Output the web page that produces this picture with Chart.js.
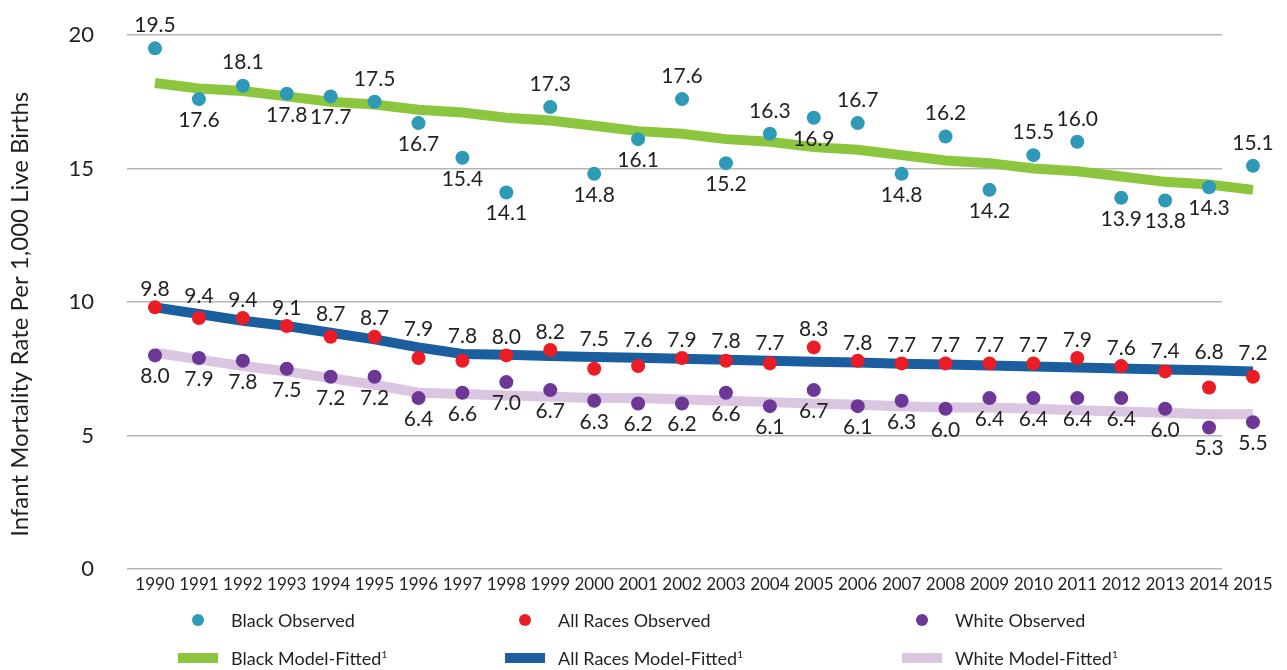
<!DOCTYPE html>
<html>
<head>
<meta charset="utf-8">
<title>Infant Mortality Rate</title>
<script src="https://cdn.jsdelivr.net/npm/chart.js@4.4.1/dist/chart.umd.min.js"></script>
<style>
  html, body { margin: 0; padding: 0; background: #fff; }
  #wrap { position: relative; width: 1287px; height: 670px; overflow: hidden; }
  #mortalityChart { position: absolute; left: 0; top: 0; }
  #legend { position: absolute; left: 0; top: 0; width: 1287px; height: 670px; pointer-events: none;
            font-family: Lato, sans-serif; font-size: 18px; color: #231f20; }
  .legend-item { position: absolute; display: flex; align-items: center; height: 24px; white-space: nowrap; }
  .legend-mark { width: 40px; height: 24px; display: flex; justify-content: center; align-items: center; margin-right: 13px; }
  .legend-item sup { font-size: 10px; vertical-align: 7px; line-height: 0; }
</style>
</head>
<body>
<div id="wrap">
  <canvas id="mortalityChart" width="1287" height="670"></canvas>
  <div id="legend"></div>
</div>
<script>
const years = [1990, 1991, 1992, 1993, 1994, 1995, 1996, 1997, 1998, 1999, 2000, 2001, 2002,
  2003, 2004, 2005, 2006, 2007, 2008, 2009, 2010, 2011, 2012, 2013, 2014, 2015];

const blackObserved = [19.5, 17.6, 18.1, 17.8, 17.7, 17.5, 16.7, 15.4, 14.1, 17.3, 14.8, 16.1, 17.6,
  15.2, 16.3, 16.9, 16.7, 14.8, 16.2, 14.2, 15.5, 16.0, 13.9, 13.8, 14.3, 15.1];
const allRacesObserved = [9.8, 9.4, 9.4, 9.1, 8.7, 8.7, 7.9, 7.8, 8.0, 8.2, 7.5, 7.6, 7.9,
  7.8, 7.7, 8.3, 7.8, 7.7, 7.7, 7.7, 7.7, 7.9, 7.6, 7.4, 6.8, 7.2];
const whiteObserved = [8.0, 7.9, 7.8, 7.5, 7.2, 7.2, 6.4, 6.6, 7.0, 6.7, 6.3, 6.2, 6.2,
  6.6, 6.1, 6.7, 6.1, 6.3, 6.0, 6.4, 6.4, 6.4, 6.4, 6.0, 5.3, 5.5];

// model-fitted lines
const blackFitted = [18.2, 18.0, 17.9, 17.7, 17.5, 17.4, 17.2, 17.1, 16.9, 16.8, 16.6, 16.4, 16.3,
  16.1, 16.0, 15.8, 15.7, 15.5, 15.3, 15.2, 15.0, 14.9, 14.7, 14.5, 14.4, 14.2];
const allRacesFitted = [9.8, 9.55, 9.3, 9.1, 8.85, 8.6, 8.3, 8.05, 8.02, 7.98, 7.94, 7.91, 7.87,
  7.84, 7.8, 7.76, 7.73, 7.69, 7.66, 7.62, 7.58, 7.55, 7.51, 7.47, 7.44, 7.4];
const whiteFitted = [8.1, 7.85, 7.6, 7.4, 7.15, 6.9, 6.6, 6.55, 6.5, 6.45, 6.4, 6.4, 6.35,
  6.3, 6.25, 6.2, 6.15, 6.1, 6.05, 6.05, 6.0, 5.95, 5.9, 5.85, 5.8, 5.8];

const yTicks = [0, 5, 10, 15, 20];

// where each black value label sits relative to its point
const blackLabelSide = ["above", "below", "above", "below", "below", "above", "below", "below", "below",
  "above", "below", "below", "above", "below", "above", "below", "above", "below", "above", "below",
  "above", "above", "below", "below", "below", "above"];

const BLACK_DOT = "#2f9ab7";
const ALL_DOT = "#ec1c24";
const WHITE_DOT = "#6c3796";
const BLACK_LINE = "#8cc63e";
const ALL_LINE = "#1b5e9f";
const WHITE_LINE = "#dac6e1";
const TEXT_COLOR = "#231f20";

function toPoints(values) {
  return values.map((v, i) => ({ x: years[i], y: v }));
}

function observedDataset(label, values, color, sides, gapAbove, anchorLine) {
  return {
    label,
    data: toPoints(values),
    showLine: false,
    pointRadius: 7,
    pointHoverRadius: 7,
    pointBorderWidth: 0,
    pointBackgroundColor: color,
    backgroundColor: color,
    borderColor: color,
    labelSides: sides,
    labelGapAbove: gapAbove,
    labelAnchorLine: anchorLine,
    kind: "dot",
    order: 0,
    clip: false,
  };
}

function fittedDataset(label, values, color) {
  return {
    label,
    data: toPoints(values),
    borderColor: color,
    backgroundColor: color,
    borderWidth: 10,
    borderCapStyle: "butt",
    pointRadius: 0,
    tension: 0,
    kind: "line",
    order: 1,
    clip: false,
  };
}

// the 2015 marks sit right of the gridlines, so let the points draw past the plot area
const widenPointArea = {
  id: "widenPointArea",
  beforeDatasetsDraw(chart) {
    chart.$plotArea = chart.chartArea;
    chart.chartArea = { ...chart.chartArea, right: chart.width };
  },
  afterDatasetsDraw(chart) {
    if (chart.$plotArea) chart.chartArea = chart.$plotArea;
  },
};

const valueLabels = {
  id: "valueLabels",
  afterDatasetsDraw(chart) {
    const { ctx } = chart;
    ctx.save();
    ctx.font = "21px Lato";
    ctx.fillStyle = TEXT_COLOR;
    ctx.textAlign = "center";
    ctx.textBaseline = "middle";
    chart.data.datasets.forEach((ds, di) => {
      if (!ds.labelSides) return;
      // labels above may also have to clear the fitted line drawn through the dots
      const lineMeta = ds.labelAnchorLine != null ? chart.getDatasetMeta(ds.labelAnchorLine) : null;
      chart.getDatasetMeta(di).data.forEach((pt, i) => {
        const text = ds.data[i].y.toFixed(1);
        if (ds.labelSides[i] === "above") {
          const top = lineMeta ? Math.min(pt.y, lineMeta.data[i].y) : pt.y;
          ctx.fillText(text, pt.x, top - ds.labelGapAbove);
        } else {
          ctx.fillText(text, pt.x, pt.y + 21);
        }
      });
    });
    ctx.restore();
  },
};

const datasets = [
  observedDataset("Black Observed", blackObserved, BLACK_DOT, blackLabelSide, 23, null),
  observedDataset("All Races Observed", allRacesObserved, ALL_DOT, years.map(() => "above"), 18, 4),
  observedDataset("White Observed", whiteObserved, WHITE_DOT, years.map(() => "below"), 18, null),
  fittedDataset("Black Model-Fitted", blackFitted, BLACK_LINE),
  fittedDataset("All Races Model-Fitted", allRacesFitted, ALL_LINE),
  fittedDataset("White Model-Fitted", whiteFitted, WHITE_LINE),
];

const chart = new Chart(document.getElementById("mortalityChart"), {
  type: "line",
  data: { datasets },
  plugins: [widenPointArea, valueLabels],
  options: {
    responsive: false,
    animation: false,
    events: [],
    layout: { padding: { left: 0, right: 65, top: 35, bottom: 0 } },
    scales: {
      x: {
        type: "linear",
        min: 1989.3625,
        max: 2014.295,
        grid: { display: false },
        border: { display: false },
        afterFit(scale) { scale.height = 101; },
        afterBuildTicks(scale) { scale.ticks = years.map((y) => ({ value: y })); },
        ticks: {
          autoSkip: false,
          maxRotation: 0,
          padding: -3,
          color: TEXT_COLOR,
          font: { family: "Lato", size: 17 },
          callback: (value) => String(value),
        },
      },
      y: {
        min: 0,
        max: 20,
        afterFit(scale) {
          scale.width = 127;
          // the wide tick padding would otherwise push the plot top down
          scale.paddingTop = 0;
          scale.paddingBottom = 0;
        },
        afterBuildTicks(scale) { scale.ticks = yTicks.map((v) => ({ value: v })); },
        grid: { color: "#b5b5b5", lineWidth: 1.5, drawTicks: false },
        border: { display: false },
        ticks: {
          padding: 33,
          color: TEXT_COLOR,
          font: { family: "Lato", size: 22 },
        },
        title: {
          display: true,
          // trailing spaces push the title a little below the axis middle, as in the original
          text: "Infant Mortality Rate Per 1,000 Live Births    ",
          color: TEXT_COLOR,
          font: { family: "Lato", size: 24, weight: "normal" },
          padding: { top: 6, bottom: 0 },
        },
      },
    },
    plugins: {
      legend: { display: false },
      tooltip: { enabled: false },
    },
  },
});

// html legend in three columns, dots on the first row, lines on the second
const legendCols = [178, 505, 902];
const legendRows = [620, 658];
const legendEl = document.getElementById("legend");

chart.data.datasets.forEach((ds, i) => {
  const item = document.createElement("div");
  item.className = "legend-item";
  item.style.left = `${legendCols[i % 3]}px`;
  item.style.top = `${legendRows[Math.floor(i / 3)] - 12}px`;

  const mark = document.createElement("span");
  mark.className = "legend-mark";
  const swatch = document.createElement("span");
  if (ds.kind === "dot") {
    swatch.style.cssText = `width:12px;height:12px;border-radius:50%;background:${ds.backgroundColor}`;
  } else {
    swatch.style.cssText = `width:40px;height:10px;background:${ds.borderColor}`;
  }
  mark.append(swatch);

  const text = document.createElement("span");
  text.textContent = ds.label;
  if (ds.kind === "line") {
    const sup = document.createElement("sup");
    sup.textContent = "1";
    text.append(sup);
  }

  item.append(mark, text);
  legendEl.append(item);
});
</script>
</body>
</html>
